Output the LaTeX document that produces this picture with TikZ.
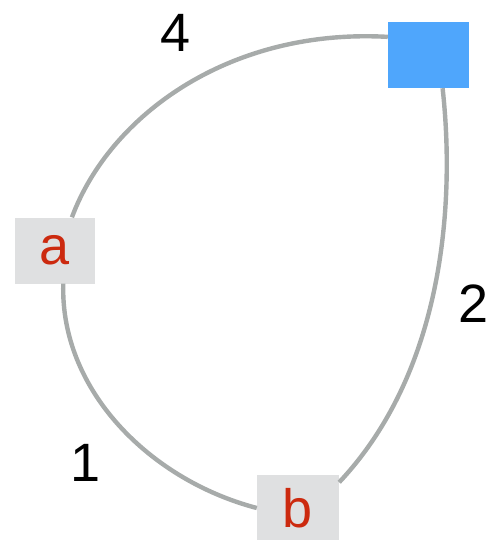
\documentclass[tikz,border=0pt]{standalone}
\usepackage{fontspec}
\setmainfont{Liberation Sans}
\definecolor{boxgray}{HTML}{DFE0E1}
\definecolor{letterred}{HTML}{CC2A0F}
\definecolor{bluebox}{HTML}{4FA6FC}
\definecolor{edgegray}{HTML}{A7ABAA}
\begin{document}
\begin{tikzpicture}[
    x=1pt, y=-1pt,
    vertex/.style={rectangle, fill=boxgray, minimum width=80pt, minimum height=66pt, inner sep=0pt, text=letterred, font=\fontsize{54}{60}\selectfont},
    target/.style={rectangle, fill=bluebox, minimum width=81pt, minimum height=66pt, inner sep=0pt},
    weight/.style={font=\fontsize{54}{60}\selectfont, inner sep=0pt},
    link/.style={draw=edgegray, line width=4.4pt}
]
\useasboundingbox (0,0) rectangle (489,540);

% Nodes
\node[vertex] (a) at (55,250.5) {a};
\node[vertex, minimum width=82pt] (b) at (298,508) {b};
\node[target] (t) at (428.5,55) {};

% Edges
\draw[link] (a.63) .. controls (110,115) and (230,28) .. (t.156);
\draw[link] (t.-67) .. controls (455,200) and (445,370) .. (b.32);
\draw[link] (a.-76) .. controls (60,390) and (150,480) .. (b.west);

% Weights
\node[weight] (w4) at (176,33) {4};
\node[weight] (w2) at (474,304) {2};
\node[weight] (w1) at (86,463) {1};

\end{tikzpicture}
\end{document}
